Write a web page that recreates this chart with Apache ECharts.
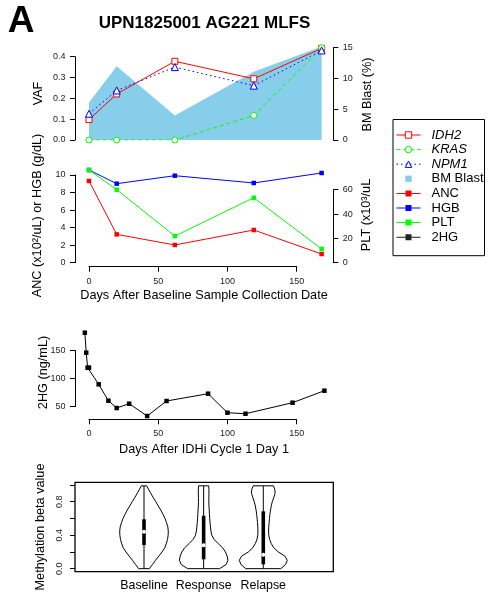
<!DOCTYPE html>
<html>
<head>
<meta charset="utf-8">
<script src="https://cdn.jsdelivr.net/npm/echarts@6/dist/echarts.min.js"></script>
<style>
  html, body { margin: 0; padding: 0; background: #fff; }
  #chart { width: 488px; height: 597px; }
</style>
</head>
<body>
<div id="chart"></div>
<script>
// sample collection days (top two panels)
var labDays = [0, 20, 62, 119, 168]
var idh2 = [0.098, 0.221, 0.378, 0.294, 0.44]
var kras = [0, 0, 0, 0.118, 0.443]
var npm1 = [0.126, 0.238, 0.35, 0.261, 0.43]
var bmBlast = [6.1, 12.0, 4.0, 11.1, 15.2]
var anc = [9.32, 3.23, 2.02, 3.73, 0.99]
var hgb = [10.57, 9.01, 9.92, 9.09, 10.23]
var plt = [76.2, 60.0, 21.9, 53.4, 11.3]

// 2HG after IDHi cycle 1 day 1
var hgDays = [-3, -2, -1, 0, 7, 14, 20, 29, 42, 56, 86, 100, 113, 147, 170]
var hgValues = [181.8, 146.1, 119.3, 119.3, 89.6, 60.4, 47.3, 55, 33, 59.8, 72.9, 38.9, 37.1, 56.8, 78.2]

// violins: half widths (x units) at each beta level
var violinCats = ['Baseline', 'Response', 'Relapse']
var betaLevels = [0, 0.05, 0.1, 0.15, 0.2, 0.25, 0.3, 0.35, 0.4, 0.45, 0.5, 0.55, 0.6, 0.65, 0.7, 0.75, 0.8, 0.85, 0.9, 0.95, 0.99]
var baselineWidth = [0.089, 0.142, 0.193, 0.248, 0.302, 0.348, 0.374, 0.394, 0.405, 0.407, 0.399, 0.377, 0.352, 0.318, 0.281, 0.238, 0.198, 0.154, 0.114, 0.075, 0.045]
var responseWidth = [0.268, 0.377, 0.407, 0.394, 0.365, 0.318, 0.243, 0.176, 0.137, 0.122, 0.114, 0.107, 0.102, 0.097, 0.094, 0.089, 0.087, 0.087, 0.089, 0.089, 0.084]
var relapseWidth = [0.293, 0.374, 0.402, 0.363, 0.251, 0.176, 0.134, 0.106, 0.092, 0.089, 0.092, 0.097, 0.104, 0.111, 0.121, 0.134, 0.151, 0.176, 0.198, 0.193, 0.168]
// min, q1, median, q3, max
var baselineStats = [0, 0.283, 0.442, 0.59, 0.988]
var responseStats = [0, 0.112, 0.279, 0.633, 0.988]
var relapseStats = [0, 0.052, 0.167, 0.685, 0.988]

var violinWidths = [baselineWidth, responseWidth, relapseWidth]
var violinStats = [baselineStats, responseStats, relapseStats]

var fontFam = '"Liberation Sans", Arial, Helvetica, sans-serif'
var tickFont = { fontSize: 9, color: '#222', fontFamily: fontFam }
// legend icon: thin line with a filled square in the middle
var lineSquareIcon = 'path://M0,3.5L24,3.5L24,4.5L0,4.5Z M9,1L15,1L15,7L9,7Z'

function zip(xs, ys) {
  return xs.map(function (x, i) { return [x, ys[i]] })
}

// data grids span the whole plot region, axis grids span only the tick range (R style axes)
function dataGrid(top, height) {
  return { left: 83.46, width: 243.7, top: top, height: height, outerBoundsMode: 'none' }
}
function axisGrid(top, height) {
  return { left: 89, width: 207.7, top: top, height: height, outerBoundsMode: 'none' }
}

function hiddenAxis(idx, min, max, pos) {
  return { type: 'value', gridIndex: idx, min: min, max: max, show: false, position: pos }
}

function yAxisR(idx, min, max, interval, pos, fmt) {
  return {
    type: 'value', gridIndex: idx, min: min, max: max, interval: interval,
    position: pos, offset: pos === 'left' ? 14 : 36.6,
    axisLine: { show: true, onZero: false, lineStyle: { color: '#000', width: 1 } },
    axisTick: { show: true, length: 5, lineStyle: { color: '#000' } },
    axisLabel: Object.assign({ margin: 9.5, formatter: fmt }, tickFont),
    splitLine: { show: false }
  }
}

function daysAxis(idx, offset) {
  return {
    type: 'value', gridIndex: idx, min: 0, max: 150, interval: 50, position: 'bottom', offset: offset,
    axisLine: { show: true, onZero: false, lineStyle: { color: '#000', width: 1 } },
    axisTick: { show: true, length: 5, lineStyle: { color: '#000' } },
    axisLabel: Object.assign({ margin: 10 }, tickFont),
    splitLine: { show: false }
  }
}

function rotText(txt, x, y) {
  return {
    type: 'text', x: x, y: y, rotation: Math.PI / 2,
    style: { text: txt, font: '12.7px ' + fontFam, fill: '#000', textAlign: 'center', textVerticalAlign: 'middle' }
  }
}

function flatText(txt, x, y, font) {
  return {
    type: 'text', x: x, y: y,
    style: { text: txt, font: font || ('12.7px ' + fontFam), fill: '#000', textAlign: 'center', textVerticalAlign: 'middle' }
  }
}

var myChart = echarts.init(document.getElementById('chart'))

myChart.setOption({
  animation: false,
  textStyle: { fontFamily: fontFam },
  grid: [
    dataGrid(46.3, 93.7),      // 0 VAF + blast data
    axisGrid(56.7, 83.3),      // 1 VAF axis
    axisGrid(47.7, 92.3),      // 2 blast axis
    dataGrid(166.23, 96.47),   // 3 ANC/HGB + PLT data
    axisGrid(175, 87.7),       // 4 ANC axis + days axis
    axisGrid(189.7, 73),       // 5 PLT axis
    dataGrid(328.1, 89.6),     // 6 2HG data
    axisGrid(350.5, 56),       // 7 2HG axis + days axis
    { left: 75, width: 258.3, top: 482.3, height: 89.4, show: true, borderColor: '#000', borderWidth: 1.3, backgroundColor: 'transparent', outerBoundsMode: 'none' }
  ],
  xAxis: [
    hiddenAxis(0, -4, 172),
    hiddenAxis(1, 0, 150),
    hiddenAxis(2, 0, 150),
    hiddenAxis(3, -4, 172),
    daysAxis(4, 4),
    hiddenAxis(5, 0, 150),
    hiddenAxis(6, -4, 172),
    daysAxis(7, 12.8),
    {
      type: 'value', gridIndex: 8, min: -0.157, max: 4.174,
      axisLine: { show: false, onZero: false }, axisTick: { show: false }, splitLine: { show: false },
      axisLabel: {
        customValues: [1, 2, 3], margin: 8, fontSize: 12.4, color: '#000', fontFamily: fontFam,
        formatter: function (v) { return violinCats[Math.round(v) - 1] }
      }
    }
  ],
  yAxis: [
    hiddenAxis(0, 0, 0.45, 'left'),
    hiddenAxis(0, 0, 15.23, 'right'),
    yAxisR(1, 0, 0.4, 0.1, 'left', function (v) { return v.toFixed(1) }),
    yAxisR(2, 0, 15, 5, 'right'),
    hiddenAxis(3, 0, 11, 'left'),
    hiddenAxis(3, 0, 79.29, 'right'),
    yAxisR(4, 0, 10, 2, 'left'),
    yAxisR(5, 0, 60, 20, 'right'),
    hiddenAxis(6, 30, 190, 'left'),
    yAxisR(7, 50, 150, 50, 'left'),
    {
      type: 'value', gridIndex: 8, min: -0.036, max: 1.032,
      axisLine: { show: false, onZero: false }, splitLine: { show: false },
      axisTick: { show: true, length: 5, customValues: [0, 0.2, 0.4, 0.6, 0.8, 1.0], lineStyle: { color: '#000' } },
      axisLabel: Object.assign({
        customValues: [0, 0.4, 0.8], rotate: 90, margin: 11,
        formatter: function (v) { return v.toFixed(1) }
      }, tickFont)
    }
  ],
  legend: {
    orient: 'vertical', left: 393, top: 119.5,
    padding: [9, 1, 12, 3],
    itemWidth: 24, itemHeight: 8, itemGap: 1.6,
    borderColor: '#000', borderWidth: 1,
    selectedMode: false,
    textStyle: { fontSize: 13, color: '#000', fontFamily: fontFam, padding: [0, 0, 0, 6] },
    lineStyle: { width: 1 },
    itemStyle: { borderWidth: 1 },
    data: [
      { name: 'IDH2', textStyle: { fontStyle: 'italic' }, lineStyle: { color: '#ff0000' }, itemStyle: { color: '#fff', borderColor: '#ff0000' } },
      { name: 'KRAS', textStyle: { fontStyle: 'italic' }, lineStyle: { color: '#00ff00' }, itemStyle: { color: '#fff', borderColor: '#00ff00' } },
      { name: 'NPM1', textStyle: { fontStyle: 'italic' }, lineStyle: { color: '#0000ff' }, itemStyle: { color: '#fff', borderColor: '#0000ff' } },
      { name: 'BM Blast', lineStyle: { width: 0 }, itemStyle: { color: '#87CEEB', borderWidth: 0 } },
      { name: 'ANC', icon: lineSquareIcon, itemStyle: { color: '#ff0000', borderWidth: 0 } },
      { name: 'HGB', icon: lineSquareIcon, itemStyle: { color: '#0000ff', borderWidth: 0 } },
      { name: 'PLT', icon: lineSquareIcon, itemStyle: { color: '#00ff00', borderWidth: 0 } },
      { name: '2HG', icon: lineSquareIcon, itemStyle: { color: '#222', borderWidth: 0 } }
    ]
  },
  graphic: [
    flatText('A', 21, 22, 'bold 37px ' + fontFam),
    flatText('UPN1825001 AG221 MLFS', 204.5, 23.5, 'bold 17px ' + fontFam),
    rotText('VAF', 38, 93.5),
    rotText('BM Blast (%)', 367, 94.5),
    rotText('ANC (x10²/uL) or HGB (g/dL)', 37.5, 215.5),
    rotText('PLT (x10³/uL', 366, 215),
    flatText('Days After Baseline Sample Collection Date', 204, 295.7),
    rotText('2HG (ng/mL)', 43.5, 372.5),
    flatText('Days After IDHi Cycle 1 Day 1', 204, 449),
    rotText('Methylation beta value', 40, 527)
  ],
  series: [
    {
      name: 'BM Blast', type: 'line', xAxisIndex: 0, yAxisIndex: 1,
      data: zip(labDays, bmBlast), symbol: 'rect', symbolSize: 8, showSymbol: false,
      itemStyle: { color: '#87CEEB' },
      lineStyle: { width: 0, color: '#87CEEB' },
      areaStyle: { color: '#87CEEB', opacity: 1 },
      z: 1
    },
    {
      name: 'IDH2', type: 'line', xAxisIndex: 0, yAxisIndex: 0,
      data: zip(labDays, idh2), symbol: 'rect', symbolSize: 6,
      itemStyle: { color: '#fff', borderColor: '#ff0000', borderWidth: 1 },
      lineStyle: { color: '#ff0000', width: 1 }, z: 3
    },
    {
      name: 'KRAS', type: 'line', xAxisIndex: 0, yAxisIndex: 0,
      data: zip(labDays, kras), symbol: 'circle', symbolSize: 6,
      itemStyle: { color: '#fff', borderColor: '#00ff00', borderWidth: 1 },
      lineStyle: { color: '#00ff00', width: 1, type: [4, 3] }, z: 3
    },
    {
      name: 'NPM1', type: 'line', xAxisIndex: 0, yAxisIndex: 0,
      data: zip(labDays, npm1), symbol: 'triangle', symbolSize: 7,
      itemStyle: { color: '#fff', borderColor: '#0000ff', borderWidth: 1 },
      lineStyle: { color: '#0000ff', width: 1, type: [1.5, 3] }, z: 3
    },
    {
      name: 'ANC', type: 'line', xAxisIndex: 3, yAxisIndex: 4,
      data: zip(labDays, anc), symbol: 'rect', symbolSize: 4.5,
      itemStyle: { color: '#ff0000' }, lineStyle: { color: '#ff0000', width: 1 }
    },
    {
      name: 'HGB', type: 'line', xAxisIndex: 3, yAxisIndex: 4,
      data: zip(labDays, hgb), symbol: 'rect', symbolSize: 4.5,
      itemStyle: { color: '#0000ff' }, lineStyle: { color: '#0000ff', width: 1 }
    },
    {
      name: 'PLT', type: 'line', xAxisIndex: 3, yAxisIndex: 5,
      data: zip(labDays, plt), symbol: 'rect', symbolSize: 4.5,
      itemStyle: { color: '#00ff00' }, lineStyle: { color: '#00ff00', width: 1 }
    },
    {
      name: '2HG', type: 'line', xAxisIndex: 6, yAxisIndex: 8,
      data: zip(hgDays, hgValues), symbol: 'rect', symbolSize: 4.5, showAllSymbol: true,
      itemStyle: { color: '#000' }, lineStyle: { color: '#000', width: 1 }
    },
    {
      name: 'violin', type: 'custom', xAxisIndex: 8, yAxisIndex: 10,
      data: violinCats.map(function (c, i) { return [i + 1, violinStats[i][2]] }),
      encode: { x: 0, y: 1 },
      renderItem: function (params, api) {
        var i = params.dataIndex
        var cx = api.value(0)
        var hw = violinWidths[i]
        var st = violinStats[i]
        var pts = []
        for (var k = 0; k < betaLevels.length; k++) pts.push(api.coord([cx + hw[k], betaLevels[k]]))
        for (var j = betaLevels.length - 1; j >= 0; j--) pts.push(api.coord([cx - hw[j], betaLevels[j]]))
        var top = api.coord([cx, st[4]])
        var bot = api.coord([cx, st[0]])
        var q3 = api.coord([cx, st[3]])
        var q1 = api.coord([cx, st[1]])
        var med = api.coord([cx, st[2]])
        return {
          type: 'group',
          children: [
            { type: 'polygon', shape: { points: pts }, style: { fill: 'none', stroke: '#000', lineWidth: 1 } },
            { type: 'line', shape: { x1: top[0], y1: top[1], x2: bot[0], y2: bot[1] }, style: { stroke: '#000', lineWidth: 1 } },
            { type: 'rect', shape: { x: q3[0] - 1.8, y: q3[1], width: 3.6, height: q1[1] - q3[1] }, style: { fill: '#000' } },
            { type: 'circle', shape: { cx: med[0], cy: med[1], r: 2 }, style: { fill: '#fff' } }
          ]
        }
      }
    }
  ]
})
</script>
</body>
</html>
